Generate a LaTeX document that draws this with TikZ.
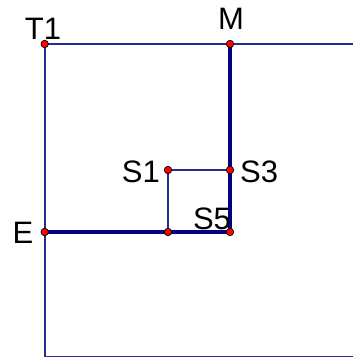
\documentclass[tikz,border=0pt]{standalone}
\usepackage{fontspec}
\setmainfont{Liberation Sans}
\definecolor{thinblue}{RGB}{40,40,150}
\definecolor{thickblue}{RGB}{0,0,128}
\definecolor{ptred}{RGB}{255,0,0}
\begin{document}
\begin{tikzpicture}[x=1pt,y=-1pt,
  thinline/.style={draw=thinblue,line width=1.6pt},
  thickline/.style={draw=thickblue,line width=4.2pt},
  pt/.style={circle,fill=ptred,draw=black,line width=0.7pt,inner sep=0pt,minimum size=7.5pt},
  lab/.style={font=\fontsize{31}{31}\selectfont,inner sep=0pt}]
\useasboundingbox (0,0) rectangle (353,358);
\coordinate (T1) at (44.7,44);
\coordinate (M) at (230,44);
\coordinate (E) at (44.7,232);
\coordinate (S1) at (168,170);
\coordinate (S3) at (230,170);
\coordinate (S5) at (230,232);
\coordinate (P) at (168,232);
\coordinate (TR) at (353,44);
\coordinate (BL) at (44.7,356.5);
\coordinate (BR) at (353,356.5);
\draw[thinline] (TR) -- (T1) -- (BL) -- (BR);
\draw[thinline] (S1) -- (S3);
\draw[thinline] (S1) -- (P);
\draw[thickline] (E) -- (S5) -- (M);
\node[pt] (nT1) at (T1) {};
\node[pt] (nM) at (M) {};
\node[pt] (nE) at (E) {};
\node[pt] (nS1) at (S1) {};
\node[pt] (nS3) at (S3) {};
\node[pt] (nS5) at (S5) {};
\node[pt] (nP) at (P) {};
\node[lab,anchor=base] at (43,40) {T1};
\node[lab,anchor=base] at (231,30) {M};
\node[lab,anchor=base east] at (160,182) {S1};
\node[lab,anchor=base west] at (240,182) {S3};
\node[lab,anchor=base] at (212,229) {S5};
\node[lab,anchor=base] at (23,243) {E};
\end{tikzpicture}
\end{document}
